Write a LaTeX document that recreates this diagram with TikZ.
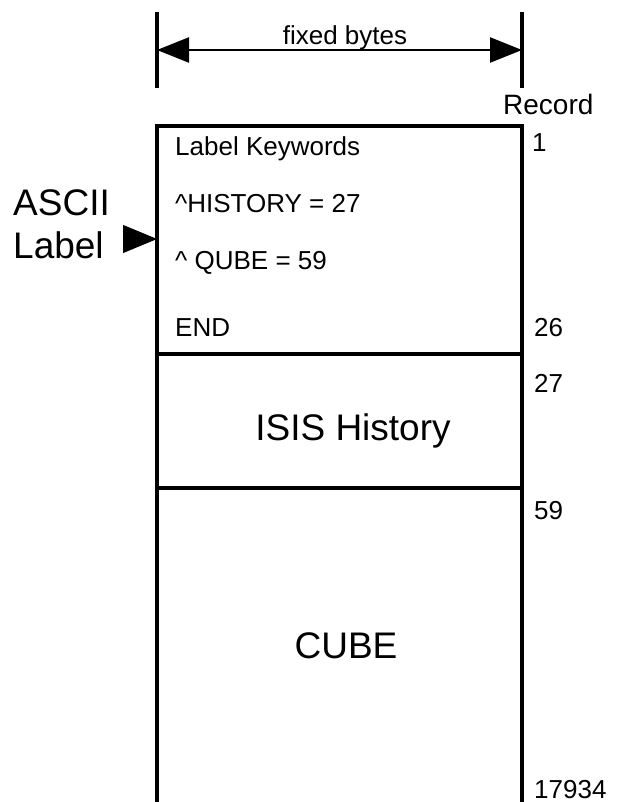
\documentclass[tikz,border=0pt]{standalone}
\usepackage{fontspec}
\setmainfont{Liberation Sans}
\usetikzlibrary{arrows.meta,positioning}

\begin{document}
\begin{tikzpicture}[x=1pt,y=-1pt,
    wall/.style={line width=3.3pt},
    txt/.style={anchor=base west, inner sep=0pt, font=\fontsize{26}{30}\selectfont},
    big/.style={anchor=base, inner sep=0pt, font=\fontsize{37}{42}\selectfont},
    bigtip/.style={line width=2.4pt, {Triangle[length=32pt,width=25pt]}-{Triangle[length=32pt,width=25pt]}}]
    \useasboundingbox (0,0) rectangle (616,802);

    % record block
    \coordinate (TL) at (157,126);
    \coordinate (TR) at (522,126);
    \coordinate (BL) at (157,802);
    \coordinate (BR) at (522,802);
    \coordinate (H1L) at (157,354); \coordinate (H1R) at (522,354);
    \coordinate (H2L) at (157,488); \coordinate (H2R) at (522,488);
    \draw[wall] (BL) -- (TL) -- (TR) -- (BR);
    \draw[wall] (H1L) -- (H1R);
    \draw[wall] (H2L) -- (H2R);

    % width marker
    \coordinate (WLt) at (157,12); \coordinate (WLb) at (157,88);
    \coordinate (WRt) at (522,12); \coordinate (WRb) at (522,88);
    \draw[wall] (WLt) -- (WLb);
    \draw[wall] (WRt) -- (WRb);
    \coordinate (WL) at (157,50); \coordinate (WR) at (522,50);
    \draw[bigtip] (WL) -- (WR);
    \node[txt, anchor=base] (width) at (345,45) {fixed bytes};

    % label keywords
    \node[txt] (kw) at (175,156) {Label Keywords};
    \node[txt] (hist) at (175,213) {\^{}HISTORY = 27};
    \node[txt] (qube) at (175,269) {\^{} QUBE = 59};
    \node[txt] (end) at (175,336) {END};

    \node[big] (isis) at (353,440) {ISIS History};
    \node[big] (cube) at (346,658) {CUBE};

    % ascii label pointer
    \node[big, anchor=base west] (ascii) at (13,215) {ASCII};
    \node[big, anchor=base west] (lab) at (13,258) {Label};
    \coordinate (ptrA) at (123,239);
    \coordinate (ptrB) at (157,239);
    \draw[line width=1pt, -{Triangle[length=34pt,width=28pt]}] (ptrA) -- (ptrB);

    % record numbers
    \node[txt, font=\fontsize{28}{32}\selectfont] (rec) at (503,115) {Record};
    \node[txt] (r1) at (532,152) {1};
    \node[txt] (r26) at (534,336) {26};
    \node[txt] (r27) at (534,392) {27};
    \node[txt] (r59) at (534,519) {59};
    \node[txt] (rlast) at (534,798) {17934};
\end{tikzpicture}
\end{document}
